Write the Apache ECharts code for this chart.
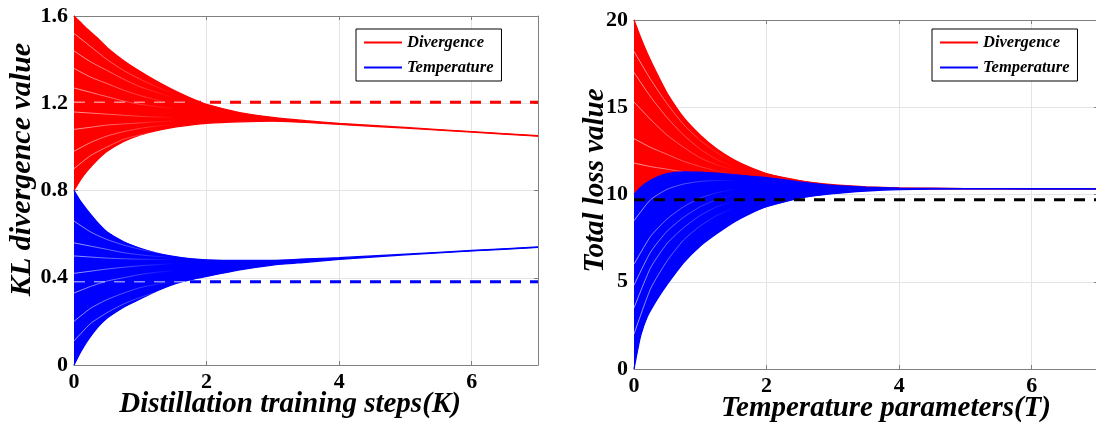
<!DOCTYPE html>
<html>
<head>
<meta charset="utf-8">
<script src="https://cdn.jsdelivr.net/npm/echarts@6/dist/echarts.min.js"></script>
<style>
  html, body { margin: 0; padding: 0; background: #ffffff; }
  #chart { width: 1096px; height: 423px; }
</style>
</head>
<body>
<div id="chart"></div>
<script>
// Shared x positions of the sampled envelopes
const steps = [0, 0.1, 0.2, 0.35, 0.5, 0.75, 1, 1.25, 1.5, 1.75, 2, 2.5, 3, 3.5, 4, 5, 6, 7];
// x positions of the individual early trajectories (inside each bundle)
const earlySteps = [0, 0.25, 0.5, 0.75, 1, 1.25, 1.5];

// Left panel: KL divergence bundles (upper / lower envelope)
const klDivUpper  = [1.60, 1.57, 1.54, 1.50, 1.455, 1.395, 1.345, 1.30, 1.26, 1.225, 1.195, 1.157, 1.135, 1.12, 1.108, 1.089, 1.07, 1.051];
const klDivLower  = [0.80, 0.85, 0.89, 0.94, 0.98, 1.025, 1.055, 1.075, 1.09, 1.10, 1.108, 1.115, 1.118, 1.112, 1.103, 1.086, 1.068, 1.049];
const klTempUpper = [0.80, 0.75, 0.71, 0.655, 0.61, 0.565, 0.535, 0.513, 0.498, 0.488, 0.482, 0.479, 0.48, 0.486, 0.492, 0.508, 0.525, 0.541];
const klTempLower = [0.00, 0.06, 0.11, 0.17, 0.215, 0.265, 0.303, 0.34, 0.37, 0.39, 0.406, 0.436, 0.458, 0.471, 0.484, 0.505, 0.523, 0.539];
const klDivTraces = [
  [1.52, 1.46, 1.40, 1.35, 1.31, 1.275, 1.245],
  [1.44, 1.39, 1.35, 1.31, 1.275, 1.25, 1.225],
  [1.36, 1.32, 1.29, 1.26, 1.235, 1.215, 1.20],
  [1.27, 1.25, 1.23, 1.21, 1.195, 1.185, 1.175],
  [1.16, 1.155, 1.15, 1.145, 1.14, 1.137, 1.135],
  [1.08, 1.09, 1.10, 1.105, 1.11, 1.115, 1.118],
  [0.98, 1.02, 1.05, 1.07, 1.085, 1.095, 1.10],
  [0.90, 0.96, 1.00, 1.035, 1.055, 1.07, 1.08]
];
const klTempTraces = [
  [0.66, 0.61, 0.575, 0.55, 0.53, 0.515, 0.505],
  [0.56, 0.545, 0.53, 0.515, 0.505, 0.498, 0.493],
  [0.50, 0.495, 0.49, 0.487, 0.485, 0.484, 0.483],
  [0.42, 0.43, 0.44, 0.448, 0.455, 0.46, 0.465],
  [0.33, 0.36, 0.385, 0.40, 0.415, 0.425, 0.432],
  [0.20, 0.26, 0.30, 0.33, 0.355, 0.37, 0.385],
  [0.11, 0.19, 0.24, 0.28, 0.31, 0.335, 0.355]
];
const klDivRef = 1.205;   // dashed reference level (red)
const klTempRef = 0.382;  // dashed reference level (blue)
const klRefStart = 1.75;

// Right panel: total loss bundles
const lossDivUpper  = [20.0, 19.0, 18.1, 16.9, 15.8, 14.4, 13.4, 12.6, 12.0, 11.55, 11.2, 10.8, 10.56, 10.44, 10.38, 10.34, 10.33, 10.33];
const lossDivLower  = [10.0, 10.03, 10.06, 10.11, 10.15, 10.2, 10.24, 10.27, 10.29, 10.3, 10.31, 10.32, 10.33, 10.33, 10.33, 10.33, 10.33, 10.33];
const lossTempUpper = [10.0, 10.4, 10.7, 11.0, 11.2, 11.3, 11.28, 11.22, 11.14, 11.05, 10.97, 10.72, 10.52, 10.42, 10.37, 10.34, 10.33, 10.33];
const lossTempLower = [0.0, 1.9, 3.0, 4.0, 4.85, 6.1, 7.05, 7.76, 8.4, 8.9, 9.3, 9.8, 10.05, 10.2, 10.28, 10.32, 10.33, 10.33];
const lossDivTraces = [
  [18.2, 16.6, 15.2, 14.0, 13.1, 12.4, 11.85],
  [17.0, 15.6, 14.4, 13.4, 12.6, 12.0, 11.6],
  [15.3, 14.3, 13.4, 12.7, 12.1, 11.7, 11.4],
  [13.2, 12.7, 12.3, 11.9, 11.6, 11.35, 11.15],
  [11.8, 11.6, 11.45, 11.3, 11.2, 11.1, 11.0]
];
const lossTempTraces = [
  [8.5, 9.7, 10.3, 10.6, 10.75, 10.8, 10.8],
  [6.0, 7.6, 8.6, 9.3, 9.8, 10.1, 10.3],
  [4.8, 6.7, 7.9, 8.7, 9.3, 9.7, 9.95],
  [3.5, 5.8, 7.2, 8.1, 8.8, 9.3, 9.6],
  [2.0, 4.6, 6.2, 7.4, 8.2, 8.8, 9.2]
];
const lossRef = 9.7;

const xTicks = { min: 0, max: 7, interval: 2 };
const klTicks = { min: 0, max: 1.6, interval: 0.4 };
const lossTicks = { min: 0, max: 20, interval: 5 };

const RED = '#ff0000';
const BLUE = '#0000ff';
const SERIF = '"Liberation Serif", "Times New Roman", serif';
const SMOOTH = 0.2;

function pairs(xs, ys) { return xs.map((x, i) => [x, ys[i]]); }

const series = [];

// One bundle of trajectories: filled band between the envelopes,
// the two envelope curves and a few early trajectories showing as light streaks.
function bundle(idx, name, upper, lower, traces, color, zBase) {
  series.push({
    type: 'custom', xAxisIndex: idx, yAxisIndex: idx, silent: true, z: zBase,
    data: [[0, 0]],
    renderItem: function (params, api) {
      const pts = [];
      for (let i = 0; i < steps.length; i++) pts.push(api.coord([steps[i], upper[i]]));
      for (let i = steps.length - 1; i >= 0; i--) pts.push(api.coord([steps[i], lower[i]]));
      return { type: 'polygon', shape: { points: pts }, style: { fill: color } };
    }
  });
  [upper, lower].forEach(env => series.push({
    type: 'line', name: name, xAxisIndex: idx, yAxisIndex: idx, silent: true, z: zBase + 1,
    data: pairs(steps, env), smooth: SMOOTH, showSymbol: false,
    lineStyle: { color: color, width: 1.3 }
  }));
  traces.forEach(t => series.push({
    type: 'line', xAxisIndex: idx, yAxisIndex: idx, silent: true, z: zBase + 1,
    data: pairs(earlySteps, t), smooth: SMOOTH, showSymbol: false,
    lineStyle: {
      width: 0.9,
      color: new echarts.graphic.LinearGradient(0, 0, 1, 0, [
        { offset: 0, color: 'rgba(255,255,255,0.7)' },
        { offset: 0.6, color: 'rgba(255,255,255,0.3)' },
        { offset: 1, color: 'rgba(255,255,255,0)' }
      ])
    }
  }));
}
function flat(idx, x0, x1, y, color, width, z) {
  series.push({
    type: 'line', xAxisIndex: idx, yAxisIndex: idx, silent: true, z: z,
    data: [[x0, y], [x1, y]], showSymbol: false,
    lineStyle: { color: color, width: width, type: [11, 9] }
  });
}

// left panel
bundle(0, 'Divergence', klDivUpper, klDivLower, klDivTraces, RED, 2);
bundle(0, 'Temperature', klTempUpper, klTempLower, klTempTraces, BLUE, 4);
flat(0, 0, klRefStart, klDivRef, 'rgba(255,255,255,0.55)', 1.5, 8);
flat(0, klRefStart, 7, klDivRef, RED, 3, 8);
flat(0, 0, klRefStart, klTempRef, 'rgba(255,255,255,0.55)', 1.5, 8);
flat(0, klRefStart, 7, klTempRef, BLUE, 3, 8);
// right panel
bundle(1, 'Divergence', lossDivUpper, lossDivLower, lossDivTraces, RED, 2);
bundle(1, 'Temperature', lossTempUpper, lossTempLower, lossTempTraces, BLUE, 4);
flat(1, 0, 7, lossRef, '#000000', 3, 8);

const axisGray = '#808080';
const labelStyle = { fontFamily: SERIF, fontWeight: 'bold', fontSize: 22, color: '#000', margin: 6, showMaxLabel: false };
const yLabelStyle = { fontFamily: SERIF, fontWeight: 'bold', fontSize: 22, color: '#000', margin: 6 };
const titleStyle = { fontFamily: SERIF, fontWeight: 'bold', fontStyle: 'italic', fontSize: 29, color: '#000' };

function bottomAxis(grid, name, pad) {
  return Object.assign({
    type: 'value', gridIndex: grid, position: 'bottom',
    name: name, nameLocation: 'middle', nameGap: 25, nameMoveOverlap: false,
    nameTextStyle: Object.assign({ padding: pad }, titleStyle),
    axisLine: { show: true, onZero: false, lineStyle: { color: axisGray, width: 1 } },
    axisTick: { show: true, inside: true, length: 4, lineStyle: { color: axisGray } },
    splitLine: { show: true, lineStyle: { color: '#e4e4e4', width: 1 } },
    axisLabel: labelStyle
  }, xTicks);
}
function topAxis(grid) {
  return Object.assign({
    type: 'value', gridIndex: grid, position: 'top',
    axisLine: { show: true, onZero: false, lineStyle: { color: axisGray, width: 1 } },
    axisTick: { show: true, inside: true, length: 4, lineStyle: { color: axisGray } },
    splitLine: { show: false }, axisLabel: { show: false }
  }, xTicks);
}
function leftAxis(grid, name, ticks, gap, pad, size) {
  return Object.assign({
    type: 'value', gridIndex: grid, position: 'left',
    name: name, nameLocation: 'middle', nameGap: gap, nameMoveOverlap: false,
    nameTextStyle: Object.assign({}, titleStyle, { padding: pad, fontSize: size }),
    axisLine: { show: true, onZero: false, lineStyle: { color: axisGray, width: 1 } },
    axisTick: { show: true, inside: true, length: 4, lineStyle: { color: axisGray } },
    splitLine: { show: true, lineStyle: { color: '#e4e4e4', width: 1 } },
    axisLabel: yLabelStyle
  }, ticks);
}
function rightAxis(grid, ticks) {
  return Object.assign({
    type: 'value', gridIndex: grid, position: 'right',
    axisLine: { show: true, onZero: false, lineStyle: { color: axisGray, width: 1 } },
    axisTick: { show: true, inside: true, length: 4, lineStyle: { color: axisGray } },
    splitLine: { show: false }, axisLabel: { show: false }
  }, ticks);
}
function legendBox(left) {
  return {
    left: left, top: 29, orient: 'vertical', selectedMode: false, z: 20,
    itemWidth: 38, itemHeight: 2, itemGap: 8,
    padding: [5, 8, 5, 8], borderColor: '#000', borderWidth: 1, borderRadius: 0,
    backgroundColor: '#fff',
    textStyle: { fontFamily: SERIF, fontWeight: 'bold', fontStyle: 'italic', fontSize: 16.5, color: '#000' },
    data: [
      { name: 'Divergence', icon: 'rect', itemStyle: { color: RED } },
      { name: 'Temperature', icon: 'rect', itemStyle: { color: BLUE } }
    ]
  };
}

const chart = echarts.init(document.getElementById('chart'), null, { renderer: 'canvas' });
chart.setOption({
  animation: false,
  backgroundColor: '#fff',
  grid: [
    { left: 74, top: 16, width: 464, height: 349, outerBoundsMode: 'none', containLabel: false },
    { left: 634, top: 20, width: 464, height: 349, outerBoundsMode: 'none', containLabel: false }
  ],
  legend: [legendBox(356), legendBox(932)],
  xAxis: [
    bottomAxis(0, 'Distillation training steps(K)', [0, 32, 0, 0]),
    bottomAxis(1, 'Temperature parameters(T)', [0, 0, 0, 40]),
    topAxis(0), topAxis(1)
  ],
  yAxis: [
    leftAxis(0, 'KL divergence value', klTicks, 37, [0, 0, 0, 42], 30),
    leftAxis(1, 'Total loss value', lossTicks, 24, [0, 0, 0, 28], 29),
    rightAxis(0, klTicks), rightAxis(1, lossTicks)
  ],
  series: series
});
</script>
</body>
</html>
